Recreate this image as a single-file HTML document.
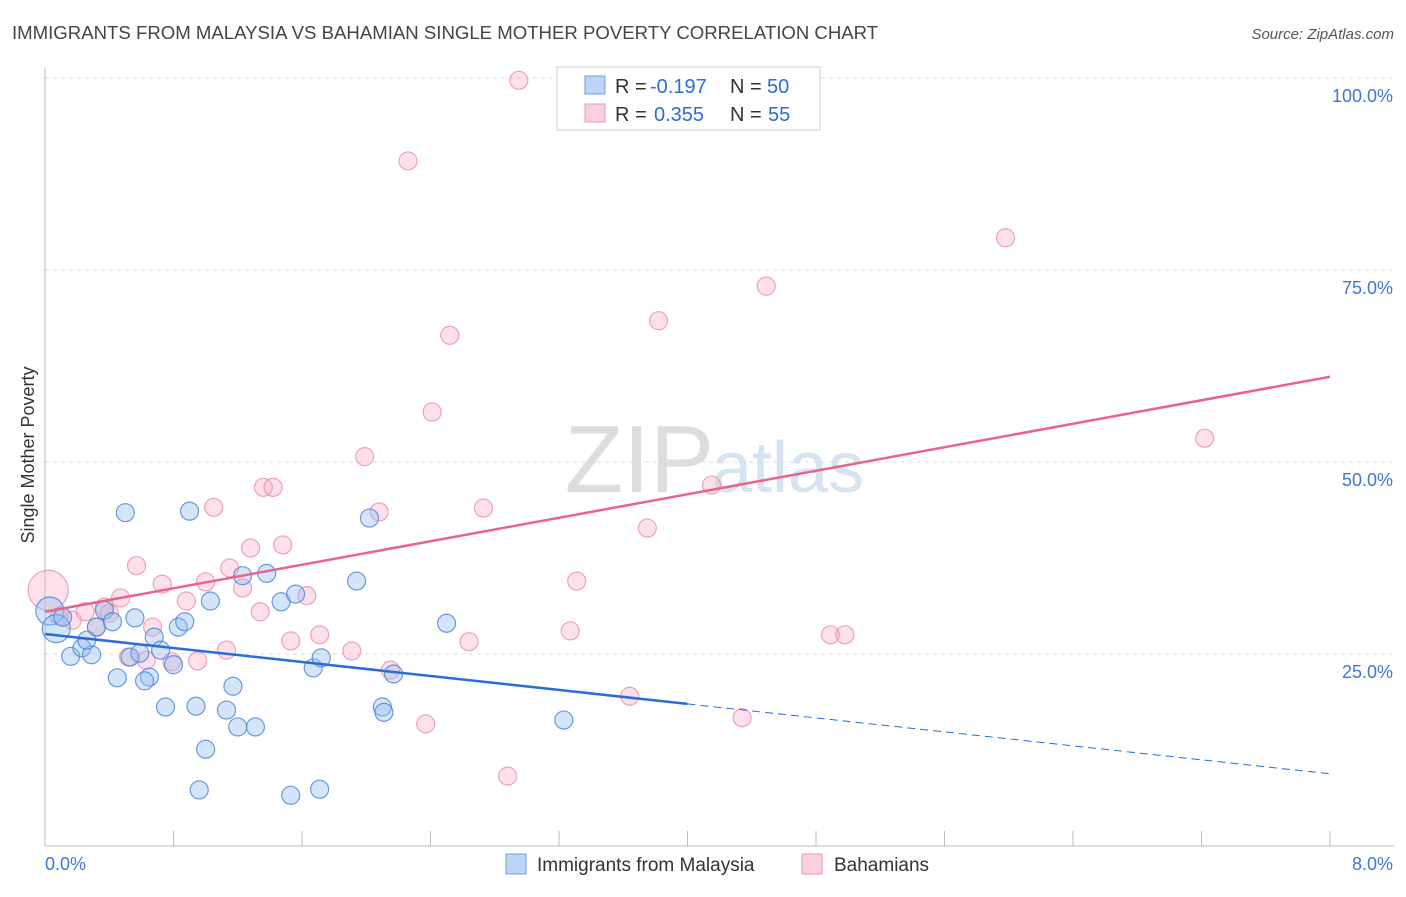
<!DOCTYPE html>
<html><head><meta charset="utf-8"><style>
body{margin:0;background:#fff;font-family:"Liberation Sans",sans-serif}
svg text{font-family:"Liberation Sans",sans-serif}
</style></head><body>
<svg id="c" width="1406" height="892">
<text x="12" y="39" font-size="18.6" fill="#444">IMMIGRANTS FROM MALAYSIA VS BAHAMIAN SINGLE MOTHER POVERTY CORRELATION CHART</text>
<text x="1394" y="39" font-size="15" fill="#555" text-anchor="end" font-style="italic">Source: ZipAtlas.com</text>
<text x="714" y="492" font-size="96" fill="#ddd" text-anchor="end" font-family="Liberation Serif">ZIP</text>
<text x="712" y="492" font-size="72" fill="#d5e3f3">atlas</text>
<g id="grid"></g><g id="marks"></g>
<text x="34" y="455" font-size="18" fill="#333" transform="rotate(-90 34 455)" text-anchor="middle">Single Mother Poverty</text>
<g>
<rect x="557" y="67" width="263" height="63" fill="#fff" stroke="#ccc"/>
<rect x="585" y="76" width="20" height="18" fill="#bcd4f5" stroke="#6f9ee0"/>
<rect x="585" y="104" width="20" height="18" fill="#fbcfdc" stroke="#ee98b3"/>
<text x="615" y="93" font-size="20" fill="#333">R =</text>
<text x="650" y="93" font-size="20" fill="#2a6dd6">-0.197</text>
<text x="730" y="93" font-size="20" fill="#333">N =</text>
<text x="767" y="93" font-size="20" fill="#2a6dd6">50</text>
<text x="615" y="121" font-size="20" fill="#333">R =</text>
<text x="654" y="121" font-size="20" fill="#2a6dd6">0.355</text>
<text x="730" y="121" font-size="20" fill="#333">N =</text>
<text x="768" y="121" font-size="20" fill="#2a6dd6">55</text>
</g>
<g>
<rect x="506" y="854" width="20" height="20" fill="#bcd4f5" stroke="#6f9ee0"/>
<text x="537" y="871" font-size="19" fill="#333">Immigrants from Malaysia</text>
<rect x="802" y="854" width="20" height="20" fill="#fbcfdc" stroke="#ee98b3"/>
<text x="834" y="871" font-size="19" fill="#333">Bahamians</text>
</g>
</svg>
<script>
const blueX=[0.50,0.90,2.02,0.03,0.07,0.11,0.16,0.23,0.29,0.32,0.37,0.42,0.26,0.45,0.53,0.59,0.56,0.65,0.62,0.68,0.72,0.75,0.80,0.83,0.87,0.94,1.00,0.96,1.03,1.13,1.17,1.20,1.31,1.23,1.38,1.47,1.56,1.53,1.67,1.71,1.72,1.94,2.10,2.11,2.17,2.50,3.23];
const blueY=[43.4,43.6,42.7,30.6,28.3,29.8,24.7,25.8,24.9,28.5,30.7,29.2,26.8,21.9,24.6,25.1,29.7,22.0,21.5,27.2,25.5,18.1,23.6,28.5,29.2,18.2,12.6,7.3,31.9,17.7,20.8,15.5,15.5,35.2,35.5,31.8,32.8,6.6,23.2,7.4,24.5,34.5,18.1,17.4,22.4,29.0,16.4];
const pinkX=[2.95,2.26,5.98,4.49,3.82,2.52,2.41,7.22,1.99,4.15,1.36,1.42,1.05,2.08,2.73,3.75,1.28,1.48,0.57,1.15,0.73,1.00,1.23,3.31,1.63,0.47,0.88,0.02,0.09,0.17,0.25,0.37,0.40,1.34,0.67,0.32,1.71,1.53,3.27,4.89,4.98,2.64,1.13,1.91,0.52,0.63,0.79,0.95,2.15,3.64,4.34,2.37,2.88];
const pinkY=[99.7,89.2,79.2,72.9,68.4,66.5,56.5,53.1,50.7,47.0,46.7,46.7,44.1,43.5,44.0,41.4,38.8,39.2,36.5,36.2,34.1,34.4,33.6,34.5,32.6,32.3,31.9,33.3,29.9,29.4,30.5,31.1,30.3,30.5,28.5,28.5,27.5,26.7,28.0,27.5,27.5,26.6,25.5,25.4,24.6,24.2,24.0,24.1,22.9,19.5,16.7,15.9,9.1];
const blueTrend=[27.6,9.4];
const pinkTrend=[30.5,61.1];
const blueSolidEnd=4.0;
const yTicks=[25,50,75,100];
const yTickLabels=["25.0%","50.0%","75.0%","100.0%"];
const xLabels=["0.0%","8.0%"];
const NS="http://www.w3.org/2000/svg";
const sx=v=>45+v/8*1285, sy=v=>846-v*7.68;
function mk(t,a,p){const e=document.createElementNS(NS,t);for(const k in a)e.setAttribute(k,a[k]);(p||document.getElementById('marks')).appendChild(e);return e;}
const g=document.getElementById('grid');
yTicks.forEach((t,i)=>{
 const l=mk('line',{x1:45,x2:1394,y1:sy(t),y2:sy(t),stroke:'#ddd','stroke-dasharray':'4 4'},g);
 
 
 const tx=mk('text',{x:1393,y:sy(t)+24,'font-size':18,fill:'#3b78d8','text-anchor':'end'},g);tx.textContent=yTickLabels[i];
 
 
});
const ya=mk('line',{x1:45,x2:45,y1:68,y2:846,stroke:'#bbb'},g);


const xa=mk('line',{x1:45,x2:1394,y1:846,y2:846,stroke:'#bbb'},g);


for(let i=0;i<=10;i++){const t=mk('line',{x1:sx(i*0.8),x2:sx(i*0.8),y1:831,y2:846,stroke:'#bbb'},g);
 
 }
[[0,'start',45],[8,'end',1393]].forEach((d,i)=>{const t=mk('text',{x:d[2],y:870,'font-size':18,fill:'#3b78d8','text-anchor':d[1]},g);t.textContent=xLabels[i];
 
 });
pinkX.forEach((x,i)=>{const c=mk('circle',{cx:sx(x),cy:sy(pinkY[i]),r:(i==27?20:9),fill:'rgba(246,170,195,0.35)',stroke:'rgba(236,140,170,0.8)','stroke-width':1.2});
 
 });
blueX.forEach((x,i)=>{const c=mk('circle',{cx:sx(x),cy:sy(blueY[i]),r:(i==3||i==4?14:9),fill:'rgba(150,190,240,0.4)',stroke:'rgba(70,130,220,0.8)','stroke-width':1.2});
 
 });
const bt=x=>blueTrend[0]+(blueTrend[1]-blueTrend[0])*x/8;
const b1=mk('line',{x1:sx(0),y1:sy(bt(0)),x2:sx(blueSolidEnd),y2:sy(bt(blueSolidEnd)),stroke:'#2a6dd6','stroke-width':2.5});


const b2=mk('line',{x1:sx(blueSolidEnd),y1:sy(bt(blueSolidEnd)),x2:sx(8),y2:sy(bt(8)),stroke:'#2a6dd6','stroke-width':1,'stroke-dasharray':'8 5'});


const p1=mk('line',{x1:sx(0),y1:sy(pinkTrend[0]),x2:sx(8),y2:sy(pinkTrend[1]),stroke:'#e8638e','stroke-width':2.5});


</script>
</body></html>
